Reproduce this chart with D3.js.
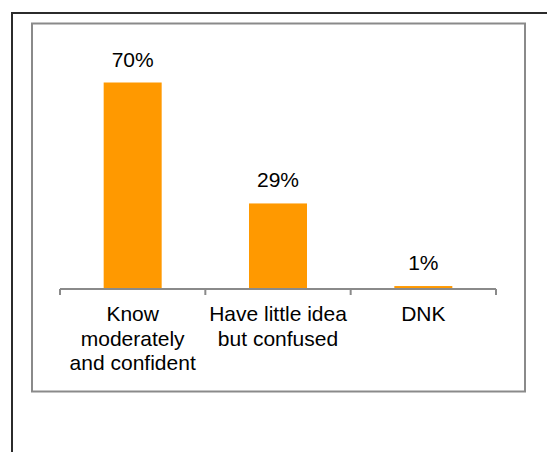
<!DOCTYPE html>
<html>
<head>
<meta charset="utf-8">
<script src="https://cdn.jsdelivr.net/npm/d3@7"></script>
<style>
  html, body { margin: 0; padding: 0; background: #fff; }
  svg { display: block; }
  text { font-family: Arial, "Liberation Sans", sans-serif; fill: #000; }
</style>
</head>
<body>
<svg id="chart" width="547" height="452"></svg>
<script>
const categories = [
  ["Know", "moderately", "and confident"],
  ["Have little idea", "but confused"],
  ["DNK"]
];
const values = [70, 29, 1];
const valueLabels = ["70%", "29%", "1%"];

const svg = d3.select("#chart");

// outer frame (clipped by viewport on right/bottom)
svg.append("rect")
  .attr("x", 12).attr("y", 13)
  .attr("width", 600).attr("height", 500)
  .attr("fill", "none").attr("stroke", "#2b2b2b").attr("stroke-width", 2);

// inner chart frame
svg.append("rect")
  .attr("x", 32).attr("y", 23.5)
  .attr("width", 493).attr("height", 368)
  .attr("fill", "#fff").attr("stroke", "#8a8a8a").attr("stroke-width", 2);

const x = d3.scaleBand()
  .domain(d3.range(categories.length))
  .range([60, 496])
  .paddingInner(0).paddingOuter(0);

const y = d3.scaleLinear().domain([0, 70]).range([289, 82.5]);

const barW = 58;

svg.append("g").selectAll("rect")
  .data(values)
  .join("rect")
  .attr("x", (d, i) => x(i) + x.bandwidth() / 2 - barW / 2)
  .attr("y", d => y(d))
  .attr("width", barW)
  .attr("height", d => y(0) - y(d))
  .attr("fill", "#FF9900");

svg.append("g").selectAll("text")
  .data(values)
  .join("text")
  .attr("x", (d, i) => x(i) + x.bandwidth() / 2)
  .attr("y", d => y(d) - 16)
  .attr("text-anchor", "middle")
  .attr("font-size", "21px")
  .text((d, i) => valueLabels[i]);

// axis line with ticks at band boundaries
const axisG = svg.append("g");
axisG.append("line")
  .attr("x1", x.range()[0]).attr("x2", x.range()[1])
  .attr("y1", y(0)).attr("y2", y(0))
  .attr("stroke", "#8a8a8a").attr("stroke-width", 2);
const tickPos = d3.range(categories.length).map(i => x(i)).concat([x.range()[1]]);
axisG.selectAll("line.tick")
  .data(tickPos)
  .join("line")
  .attr("class", "tick")
  .attr("x1", d => d).attr("x2", d => d)
  .attr("y1", y(0)).attr("y2", y(0) + 6)
  .attr("stroke", "#8a8a8a").attr("stroke-width", 2);

// category labels
const labG = svg.append("g");
categories.forEach((lines, i) => {
  const t = labG.append("text")
    .attr("text-anchor", "middle")
    .attr("font-size", "21px")
    .attr("x", x(i) + x.bandwidth() / 2)
    .attr("y", y(0) + 32);
  lines.forEach((ln, j) => {
    t.append("tspan")
      .attr("x", x(i) + x.bandwidth() / 2)
      .attr("dy", j === 0 ? 0 : 24.5)
      .text(ln);
  });
});
</script>
</body>
</html>
